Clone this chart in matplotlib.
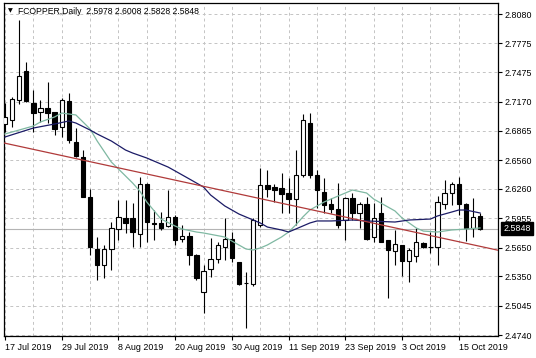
import numpy as np
import pandas as pd
import matplotlib
matplotlib.use("Agg")
import matplotlib.pyplot as plt

# daily FCOPPER candles, 17 Jul 2019 .. 18 Oct 2019
opens = [2.6936, 2.6977, 2.7185, 2.7487, 2.7154, 2.7061, 2.7102, 2.7061, 2.6905, 2.7175,
         2.6748, 2.6592, 2.6176, 2.5635, 2.5469, 2.5635, 2.5843, 2.5958, 2.5958, 2.5791,
         2.6311, 2.5906, 2.5906, 2.5874, 2.5968, 2.5739, 2.5770, 2.5573, 2.5188, 2.5427,
         2.5531, 2.5656, 2.5739, 2.5500, 2.5281, 2.5271, 2.5885, 2.6301, 2.6280, 2.6270,
         2.6218, 2.6155, 2.6405, 2.6946, 2.6405, 2.6228, 2.6103, 2.6051, 2.5937, 2.6166,
         2.6010, 2.6103, 2.5760, 2.6010, 2.5729, 2.5614, 2.5677, 2.5510, 2.5562, 2.5698,
         2.5656, 2.5656, 2.6103, 2.6218, 2.6311, 2.6103, 2.5854, 2.5978]
highs = [2.7154, 2.7217, 2.8018, 2.7581, 2.7290, 2.7185, 2.7373, 2.7061, 2.7206, 2.7258,
         2.6894, 2.6665, 2.6259, 2.5760, 2.5677, 2.5916, 2.6145, 2.6145, 2.6114, 2.6384,
         2.6321, 2.6041, 2.6020, 2.6249, 2.5989, 2.5885, 2.5812, 2.5583, 2.5469, 2.5750,
         2.5708, 2.5958, 2.5812, 2.5500, 2.5396, 2.5958, 2.6478, 2.6457, 2.6311, 2.6426,
         2.6374, 2.6665, 2.7040, 2.7050, 2.6457, 2.6374, 2.6166, 2.6322, 2.6176, 2.6218,
         2.6124, 2.6176, 2.6114, 2.6176, 2.5729, 2.5833, 2.5677, 2.5646, 2.5854, 2.5708,
         2.5812, 2.6186, 2.6353, 2.6332, 2.6384, 2.6114, 2.6166, 2.6008]
lows = [2.6853, 2.6905, 2.7144, 2.7165, 2.6853, 2.6957, 2.6946, 2.6821, 2.6801, 2.6738,
        2.6592, 2.6176, 2.5573, 2.5313, 2.5333, 2.5417, 2.5729, 2.5802, 2.5656, 2.5656,
        2.5708, 2.5729, 2.5833, 2.5864, 2.5677, 2.5708, 2.5469, 2.5313, 2.4969, 2.5344,
        2.5490, 2.5521, 2.5500, 2.5261, 2.4813, 2.5250, 2.5864, 2.6176, 2.6124, 2.6010,
        2.6010, 2.5885, 2.6384, 2.6374, 2.6062, 2.6010, 2.6010, 2.5854, 2.5729, 2.5937,
        2.5854, 2.5729, 2.5708, 2.5708, 2.5125, 2.5469, 2.5354, 2.5292, 2.5500, 2.5646,
        2.5594, 2.5469, 2.6051, 2.6093, 2.5989, 2.5718, 2.5760, 2.5828]
closes = [2.7009, 2.7196, 2.7435, 2.7175, 2.7050, 2.7102, 2.7050, 2.6884, 2.7185, 2.6769,
          2.6603, 2.6176, 2.5656, 2.5469, 2.5635, 2.5854, 2.5968, 2.5906, 2.5812, 2.6311,
          2.5916, 2.5900, 2.5854, 2.5968, 2.5729, 2.5770, 2.5573, 2.5333, 2.5406, 2.5531,
          2.5677, 2.5739, 2.5542, 2.5271, 2.5286, 2.5937, 2.6301, 2.6259, 2.6249, 2.6207,
          2.6155, 2.6405, 2.6977, 2.6405, 2.6249, 2.6093, 2.6051, 2.5885, 2.6166, 2.6010,
          2.6103, 2.5739, 2.5958, 2.5708, 2.5625, 2.5687, 2.5510, 2.5625, 2.5708, 2.5656,
          2.5660, 2.6124, 2.6218, 2.6311, 2.6103, 2.5854, 2.5968, 2.5848]

# moving averages, read at some bars (bar index, price)
slow_ma_idx = [0, 4, 7, 9, 10, 12, 13, 15, 17, 18, 20, 23, 24, 26, 28, 29, 31, 33, 34, 36,
               37, 39, 40, 41, 43, 44, 46, 49, 51, 55, 57, 60, 61, 63, 64, 65, 67]
slow_ma = [2.6801, 2.6894, 2.6936, 2.6967, 2.6946, 2.6873, 2.6832, 2.6759, 2.6665, 2.6634,
           2.6582, 2.6488, 2.6447, 2.6364, 2.6280, 2.6197, 2.6083, 2.5999, 2.5968, 2.5906,
           2.5864, 2.5833, 2.5812, 2.5843, 2.5906, 2.5927, 2.5927, 2.5937, 2.5927, 2.5916,
           2.5937, 2.5947, 2.5979, 2.6020, 2.6041, 2.6041, 2.6010]
fast_ma_idx = [0, 4, 5, 7, 8, 10, 12, 13, 15, 16, 18, 19, 20, 22, 24, 25, 27, 28, 31, 32,
               34, 35, 36, 37, 39, 40, 41, 42, 43, 45, 47, 49, 51, 52, 55, 56, 58, 59, 61,
               63, 65, 67]
fast_ma = [2.6832, 2.6915, 2.6957, 2.7009, 2.7050, 2.7030, 2.6884, 2.6759, 2.6540, 2.6468,
           2.6322, 2.6239, 2.6124, 2.5947, 2.5874, 2.5843, 2.5812, 2.5802, 2.5760, 2.5718,
           2.5635, 2.5625, 2.5646, 2.5677, 2.5760, 2.5812, 2.5885, 2.5968, 2.6041, 2.6124,
           2.6187, 2.6249, 2.6218, 2.6155, 2.6031, 2.5958, 2.5854, 2.5822, 2.5812, 2.5833,
           2.5843, 2.5854]

# trend line anchors (bar index, price)
trend_idx = [0, 67]
trend_val = [2.6736, 2.5663]

price_ticks = [2.8080, 2.7775, 2.7475, 2.7170, 2.6865, 2.6560, 2.6260, 2.5955,
               2.5650, 2.5350, 2.5045, 2.4740]

dates = pd.bdate_range("2019-07-17", periods=len(opens))
date_labels = [f"{d.day} {d:%b %Y}" for d in dates]

opens = np.array(opens)
closes = np.array(closes)
x = np.arange(len(opens))

plt.rcParams["font.family"] = ["Liberation Sans", "DejaVu Sans"]
fig = plt.figure(figsize=(5.36, 3.58), dpi=100)
ax = fig.add_axes([4 / 536, 22 / 358, 494 / 536, 333 / 358])

ax.axhline(closes[-1], color="#b4b4b4", lw=0.8, zorder=1)

ax.vlines(x, lows, highs, color="black", lw=0.8, zorder=2)
up = closes >= opens
ax.bar(x[up], (closes - opens)[up], bottom=opens[up], width=0.62,
       facecolor="white", edgecolor="black", lw=0.8, zorder=3)
ax.bar(x[~up], (opens - closes)[~up], bottom=closes[~up], width=0.62,
       facecolor="black", edgecolor="black", lw=0.8, zorder=3)

ax.plot(fast_ma_idx, fast_ma, color="#7fb8a2", lw=0.9, zorder=4)
ax.plot(slow_ma_idx, slow_ma, color="#1b1b66", lw=0.9, zorder=4)
ax.axline((trend_idx[0], trend_val[0]), (trend_idx[1], trend_val[1]),
          color="#b03a3a", lw=0.9, zorder=4)

ax.set_xlim(-0.14, 69.53)
ax.set_ylim(2.4730, 2.8195)

ax.set_xticks(x[::8])
ax.set_xticklabels(date_labels[::8], ha="left")
ax.set_xticks(x[::4], minor=True)
ax.yaxis.tick_right()
ax.set_yticks(price_ticks)
ax.set_yticklabels([f"{p:.4f}" for p in price_ticks])
ax.tick_params(axis="both", which="major", labelsize=6.4, length=3, width=0.8, pad=2)
ax.tick_params(axis="x", which="minor", length=0)
ax.grid(True, which="both", axis="x", color="#c4c4c4", lw=0.7, ls=(0, (3, 3)))
ax.grid(True, which="major", axis="y", color="#c4c4c4", lw=0.7, ls=(0, (3, 3)))
ax.set_axisbelow(True)
for s in ax.spines.values():
    s.set_linewidth(0.9)

# current price tag
ax.annotate(f"{closes[-1]:.4f}", xy=(1, closes[-1]), xycoords=("axes fraction", "data"),
            xytext=(4, 0), textcoords="offset points", va="center", ha="left",
            fontsize=6.4, color="white",
            bbox=dict(boxstyle="square,pad=0.25", fc="black", ec="black"))

fig.text(8 / 536, 1 - 11 / 358, "▼", fontsize=4.5, va="center", ha="left",
         family="DejaVu Sans")
fig.text(18 / 536, 1 - 11 / 358,
         "FCOPPER,Daily  2.5978 2.6008 2.5828 2.5848",
         fontsize=6.2, va="center", ha="left")

fig.savefig("out.png", dpi=100)
